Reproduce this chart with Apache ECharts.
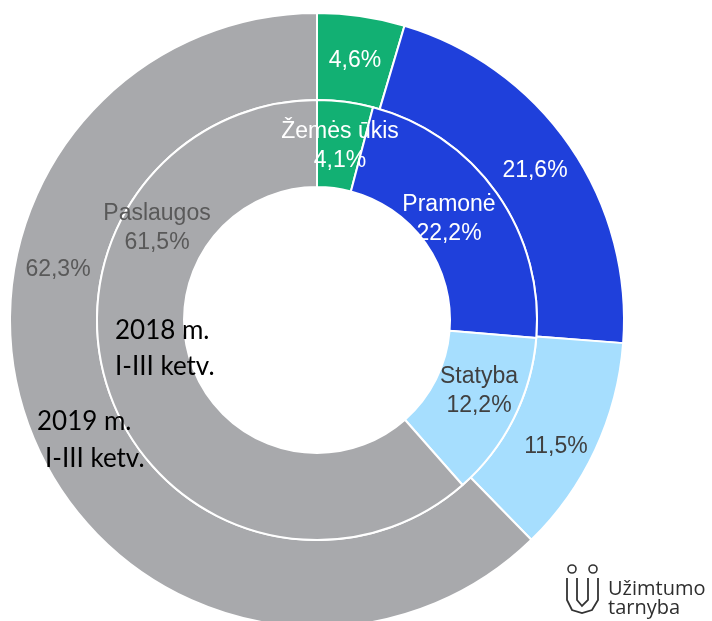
<!DOCTYPE html>
<html>
<head>
<meta charset="utf-8">
<script src="https://cdn.jsdelivr.net/npm/echarts@6/dist/echarts.min.js"></script>
<style>
  html, body { margin: 0; padding: 0; background: #fff; }
  #chart { width: 712px; height: 621px; }
</style>
</head>
<body>
<div id="chart"></div>
<script>
const sectors = ["Žemės ūkis", "Pramonė", "Statyba", "Paslaugos"];
const colors = ["#12b073", "#1f40db", "#a6defe", "#a8a9ac"];
const labelColors = ["#ffffff", "#ffffff", "#404040", "#595959"];
const values2019 = [4.6, 21.6, 11.5, 62.3];
const values2018 = [4.1, 22.2, 12.2, 61.5];
const periodLabels = ["2018 m.", "I-III ketv.", "2019 m.", "I-III ketv."];

// label anchor points (layout only)
const outerLabelPos = [[355, 61], [535, 171], [556, 447], [58, 270]];
const innerLabelPos = [[340, 146], [449, 219], [479, 391], [157, 228]];

const fmt = (v) => v.toFixed(1).replace(".", ",") + "%";

const makeData = (vals) =>
  vals.map((v, i) => ({
    name: sectors[i],
    value: v,
    itemStyle: { color: colors[i] },
    label: { color: labelColors[i] },
  }));

const placeAt = (pos) => (p) => ({
  x: pos[p.dataIndex][0],
  y: pos[p.dataIndex][1],
  align: "center",
  verticalAlign: "middle",
});

const chart = echarts.init(document.getElementById("chart"));
const option = {
  animation: false,
  series: [
    {
      name: "2019",
      type: "pie",
      center: [317, 320],
      radius: [220, 307],
      startAngle: 90,
      itemStyle: { borderColor: "#fff", borderWidth: 2 },
      emphasis: { disabled: true },
      label: {
        position: "inside",
        fontFamily: "Liberation Sans",
        fontSize: 23,
        formatter: (p) => fmt(p.value),
      },
      labelLayout: placeAt(outerLabelPos),
      data: makeData(values2019),
    },
    {
      name: "2018",
      type: "pie",
      center: [317, 320],
      radius: [133, 220],
      startAngle: 90,
      itemStyle: { borderColor: "#fff", borderWidth: 2 },
      emphasis: { disabled: true },
      label: {
        position: "inside",
        fontFamily: "Liberation Sans",
        fontSize: 23,
        lineHeight: 29,
        formatter: (p) => p.name + "\n" + fmt(p.value),
      },
      labelLayout: placeAt(innerLabelPos),
      data: makeData(values2018),
    },
  ],
  graphic: [
    { type: "text", z: 100, left: 115, top: 318, style: { text: periodLabels[0], font: "26px Lato", fill: "#000" } },
    { type: "text", z: 100, left: 115, top: 354, style: { text: periodLabels[1], font: "26px Lato", fill: "#000" } },
    { type: "text", z: 100, left: 37, top: 409, style: { text: periodLabels[2], font: "26px Lato", fill: "#000" } },
    { type: "text", z: 100, left: 45, top: 446, style: { text: periodLabels[3], font: "26px Lato", fill: "#000" } },
    // logo
    { type: "circle", z: 100, shape: { cx: 572, cy: 569, r: 4 }, style: { fill: "none", stroke: "#333", lineWidth: 1.6 } },
    { type: "circle", z: 100, shape: { cx: 593, cy: 569, r: 4 }, style: { fill: "none", stroke: "#333", lineWidth: 1.6 } },
    {
      type: "polyline", z: 100,
      shape: { points: [[567, 578], [567, 600], [572, 610], [582, 613], [592, 610], [598, 600], [598, 578]] },
      style: { fill: "none", stroke: "#333", lineWidth: 1.8 },
    },
    {
      type: "polyline", z: 100,
      shape: { points: [[577, 578], [577, 600], [582, 606], [588, 600], [588, 578]] },
      style: { fill: "none", stroke: "#333", lineWidth: 1.8 },
    },
    { type: "text", z: 100, left: 608, top: 579, style: { text: "Užimtumo", font: "20px 'Open Sans'", fill: "#2e2e2e" } },
    { type: "text", z: 100, left: 608, top: 598, style: { text: "tarnyba", font: "20px 'Open Sans'", fill: "#2e2e2e" } },
  ],
};
chart.setOption(option);
</script>
</body>
</html>
